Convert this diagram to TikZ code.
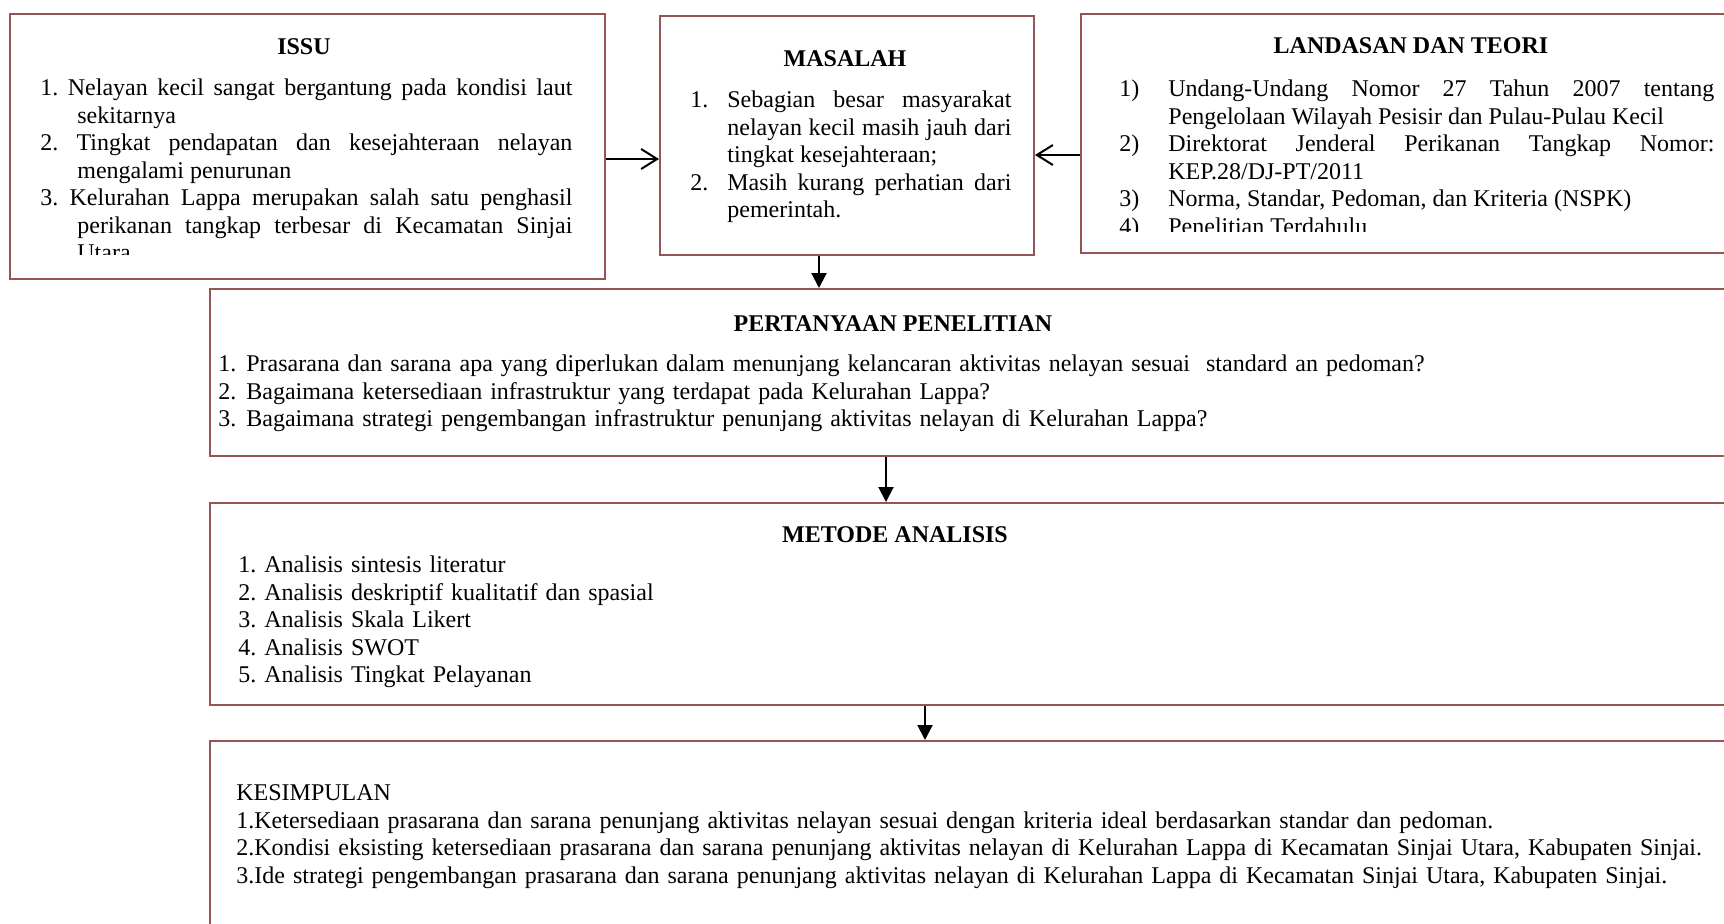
\documentclass[tikz,border=0pt]{standalone}
\usepackage{fontspec}
\setmainfont{Liberation Serif}
\usetikzlibrary{arrows.meta}

\definecolor{boxline}{RGB}{150,85,85}
\hyphenpenalty=10000
\exhyphenpenalty=10000
\frenchspacing

\tikzset{
  box/.style={draw=boxline, line width=1pt, anchor=north west, inner sep=0pt},
  boxtitle/.style={font=\fontsize{12pt}{13.75pt}\selectfont\bfseries, inner sep=0pt},
  boxtext/.style={font=\fontsize{12pt}{13.75pt}\selectfont, anchor=north west, inner sep=0pt, align=justify},
  openarrow/.style={-{Straight Barb[length=8pt,width=10pt]}, line width=1pt},
  solidarrow/.style={-{Triangle[length=7.5pt,width=7.5pt]}, line width=1pt},
}
% item with hanging indent: #1 label box width, #2 label, #3 text
\newcommand{\hitem}[3]{\hangindent=#1\hangafter=1\strut\makebox[#1][l]{#2}#3\par}
\newcommand{\lineitem}[1]{\strut #1\par}

\begin{document}
\begin{tikzpicture}[x=0.5pt, y=-0.5pt]
  \clip (0,0) rectangle (1724,923);

  % boxes
  \node[box, minimum width=297.5pt, minimum height=132.5pt] (issu) at (9,13) {};
  \node[box, minimum width=187pt, minimum height=119.5pt] (masalah) at (659,15) {};
  \node[box, minimum width=332.5pt, minimum height=119.5pt] (landasan) at (1080,13) {};
  \node[box, minimum width=768pt, minimum height=83.5pt] (pertanyaan) at (209,288) {};
  \node[box, minimum width=768pt, minimum height=101pt] (metode) at (209,502) {};
  \node[box, minimum width=768pt, minimum height=100pt] (kesimpulan) at (209,740) {};

  % titles
  \node[boxtitle] (issu-title) at (304,47) {ISSU};
  \node[boxtitle] (masalah-title) at (845,59) {MASALAH};
  \node[boxtitle] (landasan-title) at (1411,46) {LANDASAN DAN TEORI};
  \node[boxtitle] (pertanyaan-title) at (893,324) {PERTANYAAN PENELITIAN};
  \node[boxtitle] (metode-title) at (895,535) {METODE ANALISIS};

  % texts
  \begin{scope}
    \clip (0,0) rectangle (1724,254);
    \node[boxtext, text width=266pt] (issu-text) at (40,76) {%
      \hangindent=18.5pt\hangafter=1\strut 1. Nelayan kecil sangat bergantung pada kondisi laut sekitarnya\par
      \hangindent=18.5pt\hangafter=1\strut 2. Tingkat pendapatan dan kesejahteraan nelayan mengalami penurunan\par
      \hangindent=18.5pt\hangafter=1\strut 3. Kelurahan Lappa merupakan salah satu penghasil perikanan tangkap terbesar di Kecamatan Sinjai Utara\par};
  \end{scope}
  \node[boxtext, text width=160.5pt] (masalah-text) at (690,88) {%
    \hitem{18.5pt}{1.}{Sebagian besar masyarakat nelayan kecil masih jauh dari tingkat kesejahteraan;}
    \hitem{18.5pt}{2.}{Masih kurang perhatian dari pemerintah.}};
  \begin{scope}
    \clip (0,0) rectangle (1724,231);
    \node[boxtext, text width=297.5pt] (landasan-text) at (1119,77) {%
      \hitem{24.5pt}{1)}{Undang-Undang Nomor 27 Tahun 2007 tentang Pengelolaan Wilayah Pesisir dan Pulau-Pulau Kecil}
      \hitem{24.5pt}{2)}{Direktorat Jenderal Perikanan Tangkap Nomor: KEP.28/DJ-PT/2011}
      \hitem{24.5pt}{3)}{Norma, Standar, Pedoman, dan Kriteria (NSPK)}
      \hitem{24.5pt}{4)}{Penelitian Terdahulu}};
  \end{scope}
  \node[boxtext, text width=700pt, align=left] (pertanyaan-text) at (218,352) {%
    \lineitem{\makebox[14pt][l]{1.}Prasarana dan sarana apa yang diperlukan dalam menunjang kelancaran aktivitas nelayan sesuai~ standard an pedoman?}
    \lineitem{\makebox[14pt][l]{2.}Bagaimana ketersediaan infrastruktur yang terdapat pada Kelurahan Lappa?}
    \lineitem{\makebox[14pt][l]{3.}Bagaimana strategi pengembangan infrastruktur penunjang aktivitas nelayan di Kelurahan Lappa?}};
  \node[boxtext, text width=400pt, align=left] (metode-text) at (238,553) {%
    \lineitem{1. Analisis sintesis literatur}
    \lineitem{2. Analisis deskriptif kualitatif dan spasial}
    \lineitem{3. Analisis Skala Likert}
    \lineitem{4. Analisis SWOT}
    \lineitem{5. Analisis Tingkat Pelayanan}};
  \node[boxtext, text width=740pt, align=left] (kesimpulan-text) at (236,781) {%
    \lineitem{KESIMPULAN}
    \lineitem{1.Ketersediaan prasarana dan sarana penunjang aktivitas nelayan sesuai dengan kriteria ideal berdasarkan standar dan pedoman.}
    \lineitem{2.Kondisi eksisting ketersediaan prasarana dan sarana penunjang aktivitas nelayan di Kelurahan Lappa di Kecamatan Sinjai Utara, Kabupaten Sinjai.}
    \lineitem{3.Ide strategi pengembangan prasarana dan sarana penunjang aktivitas nelayan di Kelurahan Lappa di Kecamatan Sinjai Utara, Kabupaten Sinjai.}};

  % connectors
  \draw[openarrow] (issu.east |- 0,159) -- (masalah.west |- 0,159);
  \draw[openarrow] (landasan.west |- 0,155) -- (masalah.east |- 0,155);
  \draw[solidarrow] (masalah.south -| 819,0) -- (pertanyaan.north -| 819,0);
  \draw[solidarrow] (pertanyaan.south -| 886,0) -- (metode.north -| 886,0);
  \draw[solidarrow] (metode.south -| 925,0) -- (kesimpulan.north -| 925,0);
\end{tikzpicture}
\end{document}
